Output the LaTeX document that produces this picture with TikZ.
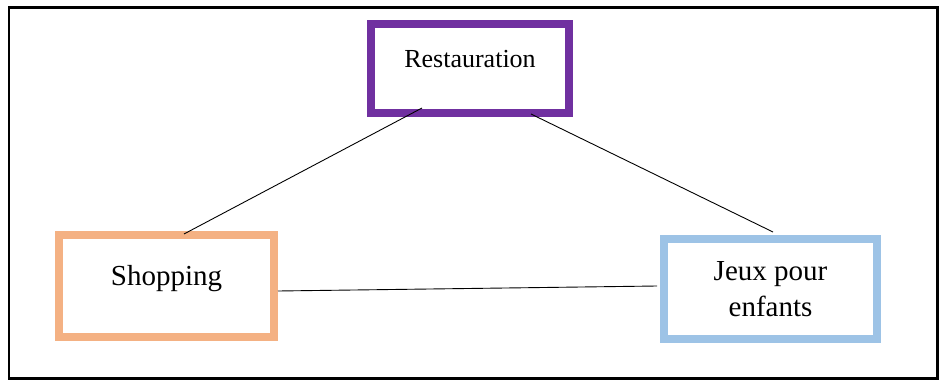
\documentclass[tikz,border=0pt]{standalone}
\usepackage{fontspec}
\setmainfont{Liberation Serif}
\definecolor{cpurple}{HTML}{7030A0}
\definecolor{corange}{HTML}{F4B183}
\definecolor{cblue}{HTML}{9DC3E6}
\begin{document}
\begin{tikzpicture}[x=1pt,y=-1pt,
  boxstyle/.style={draw, line width=7.5pt, rectangle, inner sep=0pt, outer sep=0pt},
  txt/.style={anchor=base, inner sep=0pt, font=\fontsize{29}{36}\selectfont},
  conn/.style={draw=black, line width=0.9pt}]
\useasboundingbox (0,0) rectangle (943,380);
\draw[line width=2.5pt] (9,7.5) rectangle (937.5,378.5);
\node[boxstyle, draw=cpurple, minimum width=198pt, minimum height=89pt] (r) at (470,68.5) {};
\node[boxstyle, draw=corange, minimum width=215pt, minimum height=102pt] (s) at (166.5,286) {};
\node[boxstyle, draw=cblue, minimum width=213pt, minimum height=100pt] (j) at (770.5,289) {};
\node[txt, font=\fontsize{26}{30}\selectfont] (rt) at (470,67) {Restauration};
\node[txt] (st) at (166.5,285) {Shopping};
\node[txt] (jt1) at (770.5,280) {Jeux pour};
\node[txt] (jt2) at (770.5,316) {enfants};
\draw[conn] ([xshift=-48pt,yshift=5pt]r.south) -- ([xshift=17.5pt,yshift=1pt]s.north);
\draw[conn] ([xshift=61pt,yshift=-1pt]r.south) -- ([xshift=2.5pt,yshift=7pt]j.north);
\draw[conn] ([xshift=4pt,yshift=-5pt]s.east) -- ([xshift=-7pt,yshift=3pt]j.west);
\end{tikzpicture}
\end{document}
